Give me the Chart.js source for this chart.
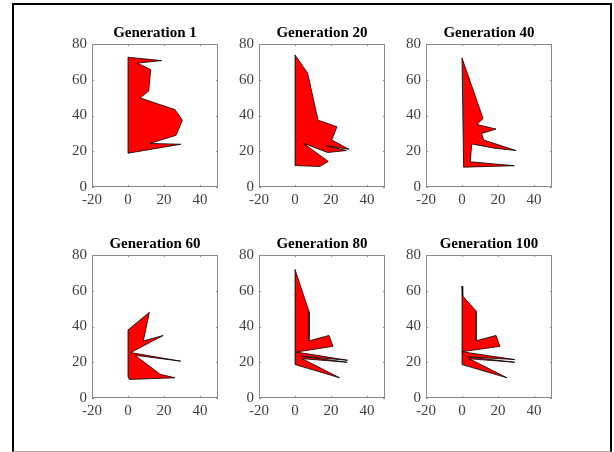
<!DOCTYPE html>
<html>
<head>
<meta charset="utf-8">
<script src="https://cdn.jsdelivr.net/npm/chart.js@4.4.1/dist/chart.umd.min.js"></script>
<style>
  html, body { margin: 0; padding: 0; background: #fff; }
  body { width: 614px; height: 452px; position: relative; overflow: hidden; }
  #frame { position: absolute; left: 12px; top: 3px; width: 600px; height: 449px;
           box-sizing: border-box; border: 2px solid #000; border-bottom: 1px solid #aaa; }
  canvas { position: absolute; }
</style>
</head>
<body>
<div id="frame"></div>
<canvas id="c0" width="180" height="210"></canvas>
<canvas id="c1" width="180" height="210"></canvas>
<canvas id="c2" width="180" height="210"></canvas>
<canvas id="c3" width="180" height="210"></canvas>
<canvas id="c4" width="180" height="210"></canvas>
<canvas id="c5" width="180" height="210"></canvas>
<script>
// ---- data ----
const titles = ['Generation 1', 'Generation 20', 'Generation 40', 'Generation 60', 'Generation 80', 'Generation 100'];
const xTicks = [-20, 0, 20, 40];
const yTicks = [0, 20, 40, 60, 80];

const gen1X = [0, 18.7, 5.2, 12.6, 11.5, 6.7, 26.1, 30.2, 26.7, 12.2, 29.3, 0];
const gen1Y = [72.6, 70.7, 69.3, 65.7, 53.7, 49.8, 43.3, 37.4, 28.9, 24.4, 23.9, 18.9];

const gen20X = [0, 7.0, 12.8, 23.3, 20.4, 30.0, 17.4, 28.5, 18.1, 4.8, 18.5, 13.7, 0];
const gen20Y = [73.9, 63.7, 37.4, 33.7, 26.3, 21.1, 23.0, 20.4, 19.3, 24.4, 14.3, 11.5, 12.0];

const gen40X = [0, 11.7, 8.3, 18.9, 10.9, 12.0, 30.0, 18.0, 5.4, 4.6, 29.1, 0.9];
const gen40Y = [72.2, 38.3, 35.0, 32.4, 30.0, 26.3, 20.4, 21.7, 24.1, 14.1, 11.9, 11.1];

const gen60X = [0, 11.9, 8.5, 19.6, 1.5, 29.3, 3.9, 17.8, 26.1, 0.7, 0];
const gen60Y = [38.1, 48.0, 31.9, 35.0, 25.4, 20.6, 23.9, 13.3, 11.3, 10.4, 11.9];

const gen80X = [0, 7.8, 7.8, 18.9, 21.1, 0.7, 29.3, 3.5, 29.0, 4.0, 24.8, 0];
const gen80Y = [71.9, 48.3, 32.0, 35.0, 28.9, 25.7, 21.1, 23.3, 20.0, 22.0, 11.3, 18.7];

const gen100X = [0, 0.4, 7.8, 7.8, 18.9, 21.1, 0, 29.3, 3.1, 29.3, 4.1, 25.0, 0];
const gen100Y = [62.6, 57.0, 48.7, 32.0, 35.0, 28.9, 25.9, 21.5, 23.0, 20.0, 21.9, 11.3, 18.7];

const shapesX = [gen1X, gen20X, gen40X, gen60X, gen80X, gen100X];
const shapesY = [gen1Y, gen20Y, gen40Y, gen60Y, gen80Y, gen100Y];

// ---- layout ----
const axisLefts = [92, 259, 426];
const axisTops = [43, 254];
const AXIS_COLOR = '#8a8a8a';
const LABEL_COLOR = '#404040';

// box + inward ticks (MATLAB style)
const boxPlugin = {
  id: 'matlabBox',
  afterDraw(chart) {
    const {ctx, chartArea: a, scales} = chart;
    ctx.save();
    ctx.strokeStyle = AXIS_COLOR;
    ctx.lineWidth = 1;
    ctx.strokeRect(Math.round(a.left) + 0.5, Math.round(a.top) + 0.5,
                   Math.round(a.right - a.left) - 1, Math.round(a.bottom - a.top) - 1);
    const L = 2;
    ctx.beginPath();
    scales.x.ticks.forEach((t, i) => {
      const px = Math.round(scales.x.getPixelForTick(i)) + 0.5;
      ctx.moveTo(px, a.bottom); ctx.lineTo(px, a.bottom - L);
      ctx.moveTo(px, a.top); ctx.lineTo(px, a.top + L);
    });
    scales.y.ticks.forEach((t, i) => {
      const py = Math.round(scales.y.getPixelForTick(i)) + 0.5;
      ctx.moveTo(a.left, py); ctx.lineTo(a.left + L, py);
      ctx.moveTo(a.right, py); ctx.lineTo(a.right - L, py);
    });
    ctx.stroke();
    ctx.restore();
  }
};

function makeChart(i) {
  const row = Math.floor(i / 3), col = i % 3;
  const cv = document.getElementById('c' + i);
  cv.style.left = (axisLefts[col] - 40) + 'px';
  cv.style.top = (axisTops[row] - 28) + 'px';
  const xs = shapesX[i], ys = shapesY[i];
  const pts = xs.map((x, k) => ({x: x, y: ys[k]}));
  pts.push({x: xs[0], y: ys[0]});
  new Chart(cv, {
    type: 'line',
    data: {
      datasets: [{
        data: pts,
        borderColor: '#000',
        borderWidth: 0.8,
        backgroundColor: '#ff0000',
        fill: 'shape',
        pointRadius: 0,
        tension: 0,
        borderJoinStyle: 'miter'
      }]
    },
    options: {
      responsive: false,
      animation: false,
      events: [],
      layout: { padding: { left: 0, right: 14, top: 0, bottom: 14 } },
      plugins: {
        legend: { display: false },
        tooltip: { enabled: false },
        title: {
          display: true,
          text: titles[i],
          fullSize: false,
          color: '#000',
          font: { family: '"Liberation Serif", "Times New Roman", serif', size: 15, weight: 'bold', lineHeight: 1 },
          padding: { top: 11, bottom: 3 }
        }
      },
      scales: {
        x: {
          type: 'linear',
          min: -20, max: 50,
          afterBuildTicks: s => { s.ticks = xTicks.map(v => ({value: v})); },
          afterFit: s => { s.height = 24; },
          grid: { display: false, drawTicks: false, tickLength: 0 },
          border: { display: false },
          ticks: {
            color: LABEL_COLOR,
            padding: 4,
            maxRotation: 0,
            autoSkip: false,
            font: { family: '"Liberation Serif", "Times New Roman", serif', size: 15 }
          }
        },
        y: {
          type: 'linear',
          min: 0, max: 80,
          afterBuildTicks: s => { s.ticks = yTicks.map(v => ({value: v})); },
          afterFit: s => { s.width = 40; },
          grid: { display: false, drawTicks: false, tickLength: 0 },
          border: { display: false },
          ticks: {
            color: LABEL_COLOR,
            padding: 5,
            autoSkip: false,
            font: { family: '"Liberation Serif", "Times New Roman", serif', size: 15 }
          }
        }
      }
    },
    plugins: [boxPlugin]
  });
}

for (let i = 0; i < 6; i++) makeChart(i);
</script>
</body>
</html>
